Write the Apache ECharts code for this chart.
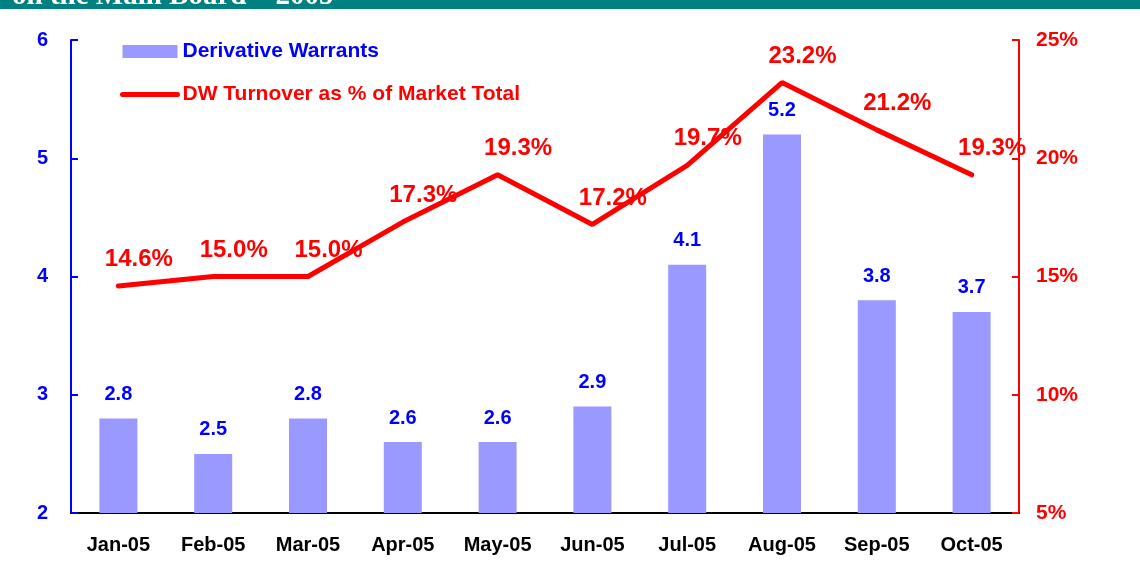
<!DOCTYPE html>
<html>
<head>
<meta charset="utf-8">
<script src="https://cdn.jsdelivr.net/npm/echarts@6/dist/echarts.min.js"></script>
<style>
html,body{margin:0;padding:0;background:#fff;}
#main{width:1140px;height:567px;}
</style>
</head>
<body>
<div id="main"></div>
<script>
// months on the x axis
const months = ['Jan-05','Feb-05','Mar-05','Apr-05','May-05','Jun-05','Jul-05','Aug-05','Sep-05','Oct-05']
// derivative warrants (left axis)
const dwValues = [2.8, 2.5, 2.8, 2.6, 2.6, 2.9, 4.1, 5.2, 3.8, 3.7]
// DW turnover as % of market total (right axis)
const dwShare = [14.6, 15.0, 15.0, 17.3, 19.3, 17.2, 19.7, 23.2, 21.2, 19.3]

const barName = 'Derivative Warrants'
const lineName = 'DW Turnover as % of Market Total'
const font = 'Arial, "Liberation Sans", sans-serif'

const myEcharts = echarts.init(document.getElementById('main'))
const option = {
    animation: false,
    graphic: [
        {
            type: 'rect',
            shape: {x: 0, y: 0, width: 1140, height: 9},
            style: {fill: '#008080'},
            z: 1
        },
        {
            type: 'text',
            x: 12,
            y: 11,
            style: {
                text: 'on the Main Board \u2013 2005',
                fill: '#ffffff',
                font: 'bold 29px "Liberation Serif", "Times New Roman", serif',
                verticalAlign: 'bottom'
            },
            z: 10
        }
    ],
    legend: {
        orient: 'vertical',
        left: 120,
        top: 41,
        padding: 0,
        itemWidth: 55,
        itemHeight: 13,
        itemGap: 22,
        textStyle: {fontFamily: font, fontWeight: 'bold', fontSize: 21},
        data: [
            {name: barName, icon: 'rect', textStyle: {color: '#0000ff'}},
            {name: lineName, itemStyle: {opacity: 0}, lineStyle: {width: 5, cap: 'round'}, textStyle: {color: '#ff0000'}}
        ]
    },
    grid: {left: 71, right: 121, top: 40, bottom: 54},
    xAxis: {
        type: 'category',
        data: months,
        axisLine: {lineStyle: {color: '#000', width: 2}},
        axisTick: {inside: true, length: 6, lineStyle: {color: '#000', width: 2}},
        axisLabel: {color: '#000', fontFamily: font, fontWeight: 'bold', fontSize: 20, margin: 22}
    },
    yAxis: [
        {
            type: 'value',
            min: 2, max: 6, interval: 1,
            splitLine: {show: false},
            axisLine: {show: true, lineStyle: {color: '#0000ff', width: 2}},
            axisTick: {show: true, inside: true, length: 7, lineStyle: {color: '#0000ff', width: 2}},
            axisLabel: {color: '#0000ff', fontFamily: font, fontWeight: 'bold', fontSize: 20, margin: 23}
        },
        {
            type: 'value',
            min: 5, max: 25, interval: 5,
            position: 'right',
            splitLine: {show: false},
            axisLine: {show: true, lineStyle: {color: '#ff0000', width: 2}},
            axisTick: {show: true, inside: true, length: 7, lineStyle: {color: '#ff0000', width: 2}},
            axisLabel: {color: '#ff0000', fontFamily: font, fontWeight: 'bold', fontSize: 21, margin: 17, formatter: '{value}%'}
        }
    ],
    series: [
        {
            name: barName,
            type: 'bar',
            data: dwValues,
            barWidth: 38,
            itemStyle: {color: '#9999ff'},
            label: {
                show: true,
                position: 'top',
                distance: 14,
                color: '#0000ff',
                fontFamily: font,
                fontWeight: 'bold',
                fontSize: 20,
                formatter: p => p.value.toFixed(1)
            }
        },
        {
            name: lineName,
            type: 'line',
            yAxisIndex: 1,
            data: dwShare,
            symbol: 'circle',
            symbolSize: 1,
            showSymbol: true,
            lineStyle: {color: '#ff0000', width: 5, cap: 'round'},
            itemStyle: {color: '#ff0000'},
            label: {
                show: true,
                position: [21, -26],
                align: 'center',
                verticalAlign: 'middle',
                color: '#ff0000',
                fontFamily: font,
                fontWeight: 'bold',
                fontSize: 24,
                formatter: p => p.value.toFixed(1) + '%'
            },
            labelLayout: {hideOverlap: false},
            z: 5
        }
    ]
}
myEcharts.setOption(option)
</script>
</body>
</html>
